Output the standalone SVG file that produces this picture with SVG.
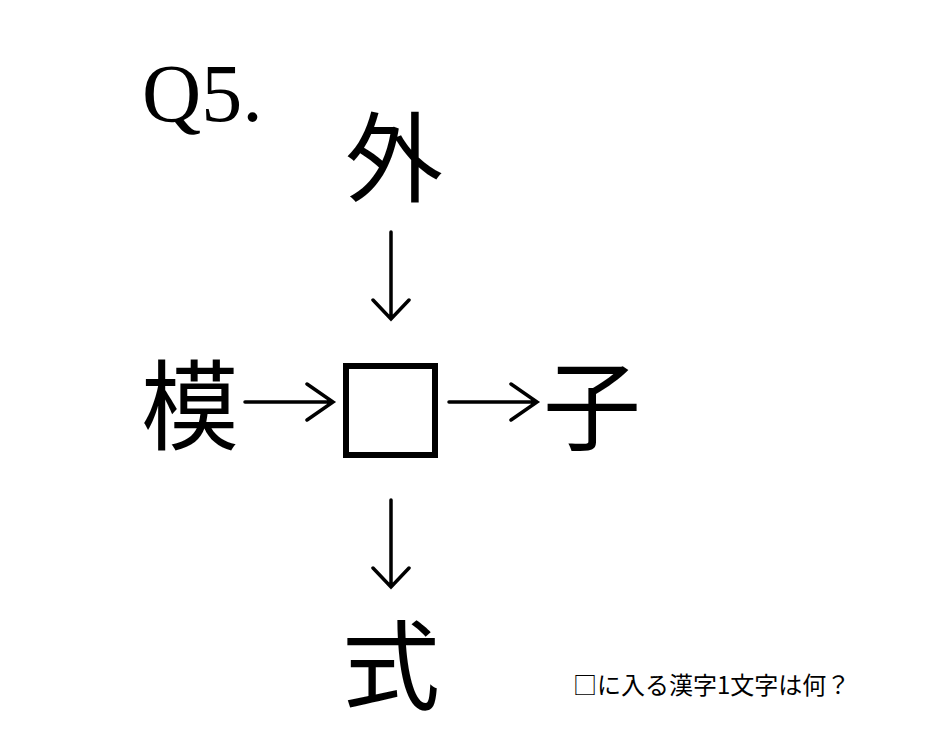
<svg xmlns="http://www.w3.org/2000/svg" width="942" height="748" viewBox="0 0 942 748">
<style>
.k{font-family:"Noto Sans CJK JP","Noto Sans CJK SC",sans-serif;font-size:98px;text-anchor:middle;fill:#000}
.q{font-family:"Liberation Serif",serif;font-size:82px;fill:#000}
.s{font-family:"Noto Sans CJK JP","Noto Sans CJK SC",sans-serif;font-size:24px;fill:#000}
.a{stroke:#000;stroke-width:3.5;fill:none;stroke-linecap:round;stroke-linejoin:miter}
</style>
<rect width="942" height="748" fill="#fff"/>
<text class="q" x="142" y="121">Q5.</text>
<g id="node-top"><text class="k" x="394" y="194">外</text></g>
<g id="node-left"><text class="k" x="190" y="442">模</text></g>
<g id="node-center"><rect x="346" y="366" width="89" height="89" fill="none" stroke="#000" stroke-width="6"/></g>
<g id="node-right"><text class="k" x="592" y="442">子</text></g>
<g id="node-bottom"><text class="k" x="391" y="702">式</text></g>
<g id="connectors">
<path class="a" d="M391 232V319M373 300L391 319L409 300"/>
<path class="a" d="M245 402H333M307 384L333 402L307 420"/>
<path class="a" d="M449 402H537M511 384L537 402L511 420"/>
<path class="a" d="M391 500V587M373 568L391 587L409 568"/>
</g>
<text class="s" x="573" y="694">□に入る漢字1文字は何？</text>
</svg>
